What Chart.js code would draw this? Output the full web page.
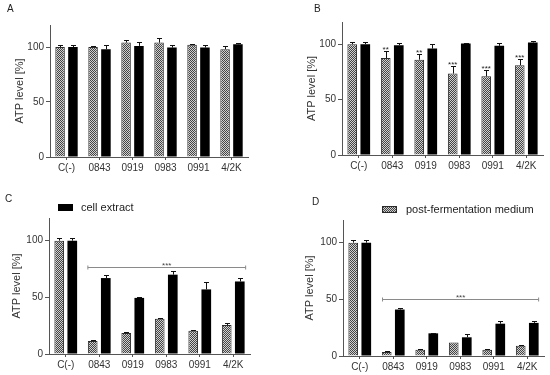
<!DOCTYPE html>
<html>
<head>
<meta charset="utf-8">
<script src="https://cdn.jsdelivr.net/npm/chart.js@4.4.1/dist/chart.umd.min.js"></script>
<style>
  html, body { margin: 0; padding: 0; background: #fff; }
  #wrap { position: relative; width: 550px; height: 375px; }
  .panel { position: absolute; }
</style>
</head>
<body>
<div id="wrap">
  <div class="panel" style="left:0;top:0;width:275px;height:185px"><canvas id="chartA"></canvas></div>
  <div class="panel" style="left:275px;top:0;width:275px;height:185px"><canvas id="chartB"></canvas></div>
  <div class="panel" style="left:0;top:185px;width:275px;height:190px"><canvas id="chartC"></canvas></div>
  <div class="panel" style="left:275px;top:185px;width:275px;height:190px"><canvas id="chartD"></canvas></div>
</div>
<script>
// --- data ---
const categories = ['C(-)', '0843', '0919', '0983', '0991', '4/2K'];
const seriesNames = ['post-fermentation medium', 'cell extract'];
const yTicks = [0, 50, 100];

// A
const mediumA = [100, 100, 104, 104, 102, 98];
const mediumErrA = [2, 1, 2, 4.5, 1, 3];
const extractA = [100, 98, 101, 99.5, 99.5, 102.5];
const extractErrA = [2, 4, 4, 2.5, 2, 1.2];

// B
const mediumB = [100, 87.5, 86, 73.5, 71, 81];
const mediumErrB = [2, 6.5, 5.5, 6.5, 5.5, 6];
const extractB = [100, 99, 96, 100.5, 98.5, 101.5];
const extractErrB = [2, 2, 4, 0.8, 2.5, 1.8];
const starsB = ['', '**', '**', '***', '***', '***'];

// C
const mediumC = [100, 11.5, 18.5, 31, 20.5, 25.5];
const mediumErrC = [2.5, 0.5, 0.8, 0.5, 0.5, 2];
const extractC = [100, 67, 49.5, 70, 57, 64];
const extractErrC = [2.5, 2.3, 1, 3.2, 6.2, 3.5];
const bracketC = 77;

// D
const mediumD = [100, 3.5, 5.5, 12, 5.5, 9];
const mediumErrD = [2.5, 0.5, 1, 0, 0.5, 0.6];
const extractD = [100, 41, 20, 16.5, 28.5, 29.2];
const extractErrD = [2.5, 1.2, 0.6, 3, 2, 2];
const bracketD = 50;

const family = "'Liberation Sans', Arial, sans-serif";

// checkered fill for the medium bars
const checker = (() => {
  const c = document.createElement('canvas');
  c.width = 2; c.height = 2;
  const g = c.getContext('2d');
  g.fillStyle = '#d0d0d0'; g.fillRect(0, 0, 2, 2);
  g.fillStyle = '#444'; g.fillRect(0, 0, 1, 1); g.fillRect(1, 1, 1, 1);
  return g.createPattern(c, 'repeat');
})();

// error bars (upwards only)
const errorBarPlugin = {
  id: 'errorBars',
  afterDatasetsDraw(chart) {
    const ctx = chart.ctx;
    const yScale = chart.scales.y;
    ctx.save();
    ctx.strokeStyle = '#111';
    ctx.lineWidth = 1;
    chart.data.datasets.forEach((ds, di) => {
      chart.getDatasetMeta(di).data.forEach((bar, i) => {
        const err = ds.errors[i];
        if (!err) return;
        const top = Math.round(yScale.getPixelForValue(ds.data[i] + err)) + 0.5;
        const x = Math.round(bar.x) + 0.5;
        ctx.beginPath();
        ctx.moveTo(x, bar.y);
        ctx.lineTo(x, top);
        ctx.moveTo(x - 2.5, top);
        ctx.lineTo(x + 2.5, top);
        ctx.stroke();
      });
    });
    ctx.restore();
  }
};

// letters, significance stars, brackets, legend
const panelExtras = {
  id: 'panelExtras',
  afterDraw(chart, args, o) {
    const ctx = chart.ctx;
    const xs = chart.scales.x, ys = chart.scales.y;
    ctx.save();
    ctx.fillStyle = '#222';
    ctx.font = '10px ' + family;
    ctx.textBaseline = 'top';
    ctx.textAlign = 'left';
    ctx.fillText(o.letter, o.letterAt[0], o.letterAt[1]);

    if (o.stars) {
      const ds = chart.data.datasets[0];
      const meta = chart.getDatasetMeta(0);
      ctx.font = '8px ' + family;
      ctx.textAlign = 'center';
      ctx.textBaseline = 'alphabetic';
      o.stars.forEach((s, i) => {
        if (!s) return;
        const cap = ys.getPixelForValue(ds.data[i] + ds.errors[i]);
        ctx.fillText(s, meta.data[i].x, cap + 1);
      });
    }

    if (o.bracket != null) {
      const yb = Math.round(ys.getPixelForValue(o.bracket)) + 0.5;
      const x0 = xs.getPixelForValue(o.bracketFrom);
      const x1 = xs.getPixelForValue(o.bracketTo);
      ctx.strokeStyle = '#8a8a8a';
      ctx.lineWidth = 1;
      ctx.beginPath();
      ctx.moveTo(x0, yb); ctx.lineTo(x1, yb);
      ctx.moveTo(x0, yb - 2); ctx.lineTo(x0, yb + 2);
      ctx.moveTo(x1, yb - 2); ctx.lineTo(x1, yb + 2);
      ctx.stroke();
      ctx.fillStyle = '#444';
      ctx.font = '8px ' + family;
      ctx.textAlign = 'center';
      ctx.textBaseline = 'alphabetic';
      ctx.fillText('***', (x0 + x1) / 2, yb);
    }

    if (o.legend) {
      const L = o.legend;
      const ds = chart.data.datasets[L.dataset];
      ctx.fillStyle = ds.backgroundColor;
      ctx.fillRect(L.x, L.y, 15, 7);
      if (ds.borderWidth) {
        ctx.strokeStyle = ds.borderColor;
        ctx.lineWidth = 1;
        ctx.strokeRect(L.x + 0.5, L.y + 0.5, 14, 6);
      }
      ctx.fillStyle = '#222';
      ctx.font = '11px ' + family;
      ctx.textAlign = 'left';
      ctx.textBaseline = 'middle';
      ctx.fillText(ds.label, L.textX, L.y + 3.5);
    }
    ctx.restore();
  }
};

function buildPanel(id, p) {
  return new Chart(document.getElementById(id), {
    type: 'bar',
    data: {
      labels: categories,
      datasets: [
        { label: seriesNames[0], data: p.medium, errors: p.mediumErr,
          backgroundColor: checker, borderColor: '#2b2b2b', borderWidth: 1 },
        { label: seriesNames[1], data: p.extract, errors: p.extractErr,
          backgroundColor: '#000', borderColor: '#000', borderWidth: 0 }
      ]
    },
    options: {
      responsive: true,
      maintainAspectRatio: false,
      animation: false,
      events: [],
      layout: { padding: { left: 0, top: p.area.top, right: p.area.right, bottom: 0 } },
      datasets: { bar: { categoryPercentage: 0.78, barPercentage: 0.74 } },
      scales: {
        x: {
          grid: { display: true, drawOnChartArea: false, offset: false, tickLength: 3, color: '#555' },
          border: { color: '#555', width: 1 },
          ticks: { color: '#333', font: { size: 10, family: family }, padding: 2, maxRotation: 0, autoSkip: false },
          afterFit: s => { s.height = p.area.xh; }
        },
        y: {
          min: 0,
          max: 120,
          afterBuildTicks: s => { s.ticks = yTicks.map(v => ({ value: v })); },
          grid: { display: true, drawOnChartArea: false, tickLength: 4, color: '#555' },
          border: { color: '#555', width: 1 },
          ticks: { color: '#333', font: { size: 10, family: family }, padding: 2 },
          title: { display: true, text: 'ATP level [%]', color: '#333',
                   font: { size: 11, family: family }, padding: { top: p.titlePad, bottom: 0 } },
          afterFit: s => { s.width = p.area.left; }
        }
      },
      plugins: {
        legend: { display: false },
        tooltip: { enabled: false },
        panelExtras: p.extras
      }
    },
    plugins: [errorBarPlugin, panelExtras]
  });
}

buildPanel('chartA', {
  medium: mediumA, mediumErr: mediumErrA, extract: extractA, extractErr: extractErrA,
  area: { left: 50, right: 27, top: 25, xh: 28 }, titlePad: 13,
  extras: { letter: 'A', letterAt: [7, 4] }
});
buildPanel('chartB', {
  medium: mediumB, mediumErr: mediumErrB, extract: extractB, extractErr: extractErrB,
  area: { left: 67, right: 7, top: 22, xh: 30 }, titlePad: 30,
  extras: { letter: 'B', letterAt: [39, 4], stars: starsB }
});
buildPanel('chartC', {
  medium: mediumC, mediumErr: mediumErrC, extract: extractC, extractErr: extractErrC,
  area: { left: 49, right: 25, top: 33, xh: 21 }, titlePad: 10,
  extras: { letter: 'C', letterAt: [5, 9], bracket: bracketC, bracketFrom: 0.66, bracketTo: 5.37,
            legend: { dataset: 1, x: 58, y: 19, textX: 81 } }
});
buildPanel('chartD', {
  medium: mediumD, mediumErr: mediumErrD, extract: extractD, extractErr: extractErrD,
  area: { left: 68, right: 6, top: 35, xh: 19 }, titlePad: 28,
  extras: { letter: 'D', letterAt: [37, 12], bracket: bracketD, bracketFrom: 0.68, bracketTo: 5.34,
            legend: { dataset: 0, x: 107, y: 21, textX: 131 } }
});
</script>
</body>
</html>
